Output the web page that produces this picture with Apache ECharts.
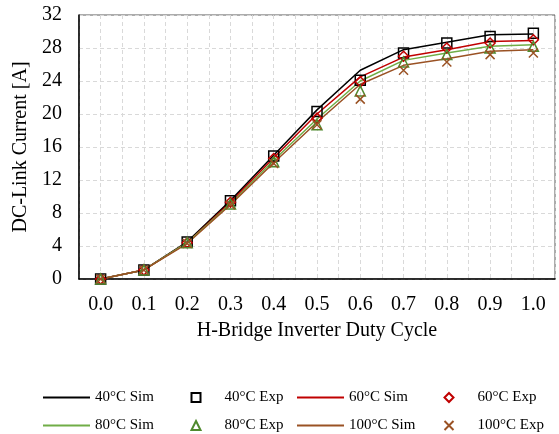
<!DOCTYPE html>
<html>
<head>
<meta charset="utf-8">
<script src="https://cdn.jsdelivr.net/npm/echarts@6/dist/echarts.min.js"></script>
<style>html,body{margin:0;padding:0;background:#fff;}#c{width:559px;height:434px;}</style>
</head>
<body>
<div id="c"></div>
<script>
const duty = [0.0, 0.1, 0.2, 0.3, 0.4, 0.5, 0.6, 0.7, 0.8, 0.9, 1.0];
const sim40  = [0, 1.1, 4.5, 9.5, 15.0, 20.5, 25.3, 27.8, 28.7, 29.6, 29.7];
const exp40  = [0, 1.1, 4.5, 9.5, 14.9, 20.3, 24.1, 27.4, 28.6, 29.4, 29.8];
const sim60  = [0, 1.1, 4.4, 9.3, 14.7, 20.0, 24.5, 26.9, 27.8, 28.8, 28.9];
const exp60  = [0, 1.1, 4.4, 9.3, 14.6, 19.5, 23.9, 27.0, 28.0, 28.6, 29.0];
const sim80  = [0, 1.1, 4.4, 9.1, 14.4, 19.4, 24.0, 26.5, 27.4, 28.2, 28.4];
const exp80  = [0, 1.1, 4.4, 9.1, 14.2, 18.7, 22.8, 26.3, 27.2, 28.0, 28.2];
const sim100 = [0, 1.1, 4.3, 9.0, 14.1, 19.0, 23.6, 25.9, 26.7, 27.6, 27.8];
const exp100 = [0, 1.1, 4.3, 9.0, 14.0, 18.7, 21.8, 25.3, 26.3, 27.2, 27.4];
const names = ['40°C Sim','40°C Exp','60°C Sim','60°C Exp','80°C Sim','80°C Exp','100°C Sim','100°C Exp'];
const xTitle = 'H-Bridge Inverter Duty Cycle';
const yTitle = 'DC-Link Current [A]';

const FONT = 'Liberation Serif';
const C40 = '#000000', C60 = '#c00000', C80 = '#70ad47', C80m = '#4f8a2e', C100 = '#9a5224';
const pairs = arr => arr.map((v, i) => [duty[i], v]);

function simSeries(name, arr, color) {
  return {
    name: name, type: 'line', data: pairs(arr), symbol: 'none', z: 2,
    lineStyle: { color: color, width: 1.5 }, itemStyle: { color: color }
  };
}
function expSeries(name, arr, color, symbol, size) {
  return {
    name: name, type: 'scatter', data: pairs(arr), symbol: symbol, symbolSize: size, z: 3,
    itemStyle: { color: 'rgba(0,0,0,0)', borderColor: color, borderWidth: 1.5, opacity: 1 }
  };
}
const crossPath = 'path://M0,0L10,10M10,0L0,10';
const markerIcons = ['rect', 'diamond', 'triangle', crossPath];

const rows = [385, 413];
const legends = names.map((n, i) => {
  const isSim = i % 2 === 0;
  const col = i % 4;
  const row = Math.floor(i / 4);
  if (isSim) {
    return {
      data: [{ name: n, icon: 'rect' }],
      left: col === 0 ? 38 : 292,
      top: rows[row],
      itemWidth: 47, itemHeight: 2, itemGap: 0, selectedMode: false,
      textStyle: { fontFamily: FONT, fontSize: 15, color: '#000' }
    };
  }
  return {
    data: [{ name: n, icon: markerIcons[Math.floor(i / 2)] }],
    left: col === 1 ? 185.5 : 438.5,
    top: rows[row],
    itemWidth: 9, itemHeight: 9, itemGap: 0, selectedMode: false,
    textStyle: { fontFamily: FONT, fontSize: 15, color: '#000', padding: [0, 0, 0, 19] }
  };
});

const option = {
  animation: false,
  backgroundColor: '#fff',
  grid: { left: 79, right: 4, top: 15, bottom: 155, show: true, borderColor: '#595959', borderWidth: 1 },
  legend: legends,
  xAxis: {
    type: 'value', min: -0.05, max: 1.05, interval: 0.05,
    name: xTitle, nameLocation: 'middle', nameGap: 42,
    nameTextStyle: { fontFamily: FONT, fontSize: 20, color: '#000' },
    axisLine: { show: true, onZero: false, lineStyle: { color: '#000', width: 1.5 } },
    axisTick: { show: false },
    axisLabel: {
      fontFamily: FONT, fontSize: 20, color: '#000', margin: 16,
      showMinLabel: false, showMaxLabel: false,
      formatter: function (v) {
        const k = Math.round(v * 20);
        if (k < 0 || k > 20 || k % 2 !== 0) return '';
        return (k / 20).toFixed(1);
      }
    },
    splitLine: { show: true, lineStyle: { color: '#d9d9d9', type: [4, 3], width: 1 } }
  },
  yAxis: {
    type: 'value', min: 0, max: 32, interval: 4,
    name: yTitle, nameLocation: 'middle', nameGap: 34,
    nameTextStyle: { fontFamily: FONT, fontSize: 20, color: '#000' },
    axisLine: { show: true, onZero: false, lineStyle: { color: '#000', width: 1.5 } },
    axisTick: { show: false },
    axisLabel: { fontFamily: FONT, fontSize: 20, color: '#000', margin: 17 },
    splitLine: { show: true, lineStyle: { color: '#d9d9d9', type: [4, 3], width: 1 } }
  },
  series: [
    simSeries(names[0], sim40, C40),
    expSeries(names[1], exp40, C40, 'rect', 10),
    simSeries(names[2], sim60, C60),
    expSeries(names[3], exp60, C60, 'diamond', 10),
    simSeries(names[4], sim80, C80),
    expSeries(names[5], exp80, C80m, 'triangle', 10),
    simSeries(names[6], sim100, C100),
    expSeries(names[7], exp100, C100, crossPath, 9)
  ]
};
const chart = echarts.init(document.getElementById('c'), null, { renderer: 'canvas' });
chart.setOption(option);
</script>
</body>
</html>
